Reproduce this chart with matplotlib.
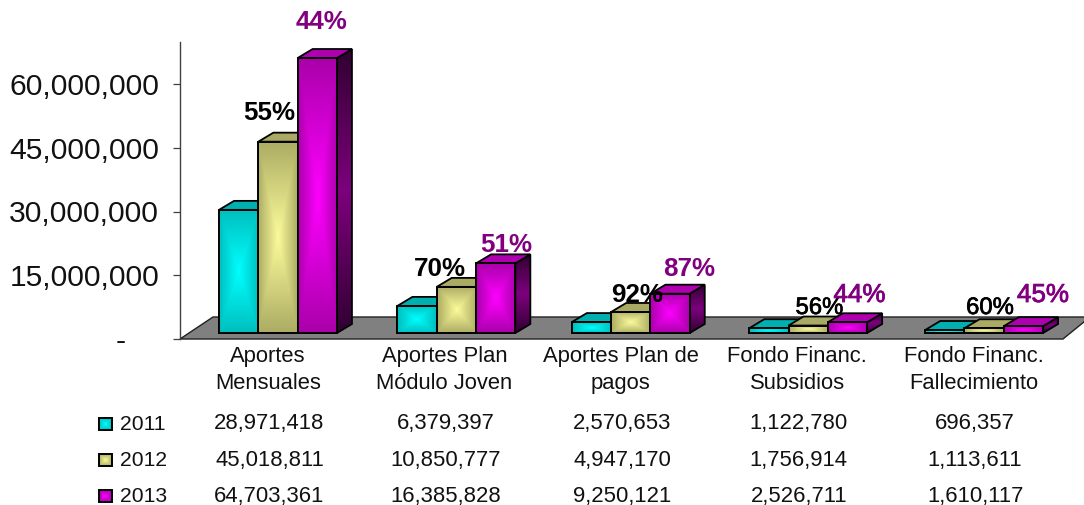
import numpy as np
import matplotlib
matplotlib.use("Agg")
import matplotlib.pyplot as plt
import matplotlib.patheffects as pe
from matplotlib.patches import Polygon, Rectangle

plt.rcParams['font.family'] = ['Liberation Sans', 'DejaVu Sans']

categories = ["Aportes\nMensuales", "Aportes Plan\nMódulo Joven", "Aportes Plan de\npagos",
              "Fondo Financ.\nSubsidios", "Fondo Financ.\nFallecimiento"]
years = ["2011", "2012", "2013"]
v2011 = [28971418, 6379397, 2570653, 1122780, 696357]
v2012 = [45018811, 10850777, 4947170, 1756914, 1113611]
v2013 = [64703361, 16385828, 9250121, 2526711, 1610117]
pct2012 = ["55%", "70%", "92%", "56%", "60%"]
pct2013 = ["44%", "51%", "87%", "44%", "45%"]
yticks = [0, 15000000, 30000000, 45000000, 60000000]
yticklabels = ["-    ", "15,000,000", "30,000,000", "45,000,000", "60,000,000"]
series = [v2011, v2012, v2013]

W, H = 1084, 505
AX_L, AX_R, AX_T, AX_B = 180, 1084, 42, 339
PX_PER_UNIT = 4.25 / 1e6
GROUP_PX = 176.4
GROUP0_PX = 278.0
GROUP_NUDGE_PX = [0, 2, 0, 1, 0.5]
BAR_PX = 39.3
DEPTH_X, DEPTH_Y = 15.0, 9.0
LIFT_PX = 6.0

fig = plt.figure(figsize=(W / 100, H / 100), dpi=100, facecolor="white")
ax = fig.add_axes([AX_L / W, 1 - AX_B / H, (AX_R - AX_L) / W, (AX_B - AX_T) / H])
ax.patch.set_visible(False)

xlim = ((AX_L - GROUP0_PX) / GROUP_PX, (AX_R - GROUP0_PX) / GROUP_PX)
ylim = (0, (AX_B - AX_T) / PX_PER_UNIT)


def X(px):
    return (px - GROUP0_PX) / GROUP_PX


def Y(px):
    return (AX_B - px) / PX_PER_UNIT


dxu, dyu = DEPTH_X / GROUP_PX, DEPTH_Y / PX_PER_UNIT
bw = BAR_PX / GROUP_PX
lift = LIFT_PX / PX_PER_UNIT

styles = [
    dict(c=(0, 255, 255), e=(0, 190, 190), top=(0, 175, 175), s0=(0, 70, 70), s1=(0, 130, 130)),
    dict(c=(252, 252, 155), e=(172, 172, 100), top=(170, 170, 100), s0=(70, 70, 40), s1=(120, 120, 70)),
    dict(c=(255, 0, 255), e=(170, 0, 170), top=(175, 0, 175), s0=(50, 0, 50), s1=(125, 0, 125)),
]


def rect_gradient(center, edge, n=80):
    u = np.linspace(-1, 1, n)
    uu, vv = np.meshgrid(u, u)
    t = np.maximum(np.abs(uu), np.abs(vv))[..., None]
    return (np.array(center) * (1 - t) + np.array(edge) * t) / 255


def to_rgb(c):
    return tuple(x / 255 for x in c)


floor = Polygon([(xlim[0], 0), (X(213), Y(317)), (X(1090), Y(317)), (X(1063), 0)],
                closed=True, fc=(0.5, 0.5, 0.5), ec="#202020", lw=1.0, zorder=1, clip_on=False)
ax.add_patch(floor)

z = 2.0
for g in range(len(categories)):
    for s, vals in enumerate(series):
        st = styles[s]
        x0 = g + GROUP_NUDGE_PX[g] / GROUP_PX + (s - 1.5) * bw
        x1 = x0 + bw
        b, t = lift, lift + vals[g]
        nside = 40
        vert = 1 - np.abs(np.linspace(-1, 1, nside))[:, None, None]
        mix = vert * np.ones((nside, nside, 1))
        side_img = (np.array(st['s0']) * (1 - mix) + np.array(st['s1']) * mix) / 255
        side = Polygon([(x1, b), (x1 + dxu, b + dyu), (x1 + dxu, t + dyu), (x1, t)], closed=True,
                       fc="none", ec="black", lw=1.3, zorder=z + 0.2, clip_on=False)
        ax.add_patch(side)
        im = ax.imshow(side_img, extent=(x1, x1 + dxu, b, t + dyu), aspect="auto",
                       interpolation="bilinear", zorder=z + 0.1, origin="lower")
        im.set_clip_path(side)
        ax.add_patch(Polygon([(x0, t), (x0 + dxu, t + dyu), (x1 + dxu, t + dyu), (x1, t)], closed=True,
                             fc=to_rgb(st['top']), ec="black", lw=1.3, zorder=z + 0.2, clip_on=False))
        ax.imshow(rect_gradient(st['c'], st['e']), extent=(x0, x1, b, t), aspect="auto",
                  interpolation="bilinear", zorder=z + 0.3, clip_on=False)
        ax.add_patch(Rectangle((x0, b), bw, vals[g], fc="none", ec="black", lw=1.4,
                               zorder=z + 0.4, clip_on=False))
        z += 1

ax.set_xlim(*xlim)
ax.set_ylim(*ylim)
ax.set_xticks([])
ax.set_yticks(yticks)
ax.set_yticklabels(yticklabels, fontsize=21.6, color="#111111")
ax.tick_params(axis="y", length=5, width=0.9, color="#404040", pad=10)
for k in ("top", "right", "bottom"):
    ax.spines[k].set_visible(False)
ax.spines["left"].set_color("#404040")
ax.spines["left"].set_linewidth(1.0)

TZ = 500
purple = "#800080"
pct_px_2012 = [(269.5, 112.5, "bold", 18.7, 0), (440, 269.5, "bold", 18.7, 0), (637, 294.5, "bold", 18.7, 0),
               (819.5, 308, "normal", 17.2, 0.5), (990, 308, "normal", 17.2, 0.5)]
pct_px_2013 = [(322, 21.5, "bold", 18.7, 0), (506, 244.5, "bold", 18.7, 0), (689, 269.5, "bold", 18.7, 0),
               (859.5, 295, "normal", 18.7, 0.6), (1043, 295, "normal", 18.7, 0.6)]
for labs, pos, col in ((pct2012, pct_px_2012, "black"), (pct2013, pct_px_2013, purple)):
    for lab, (px, py, w, fs, sw) in zip(labs, pos):
        t_ = ax.text(X(px), Y(py), lab, color=col, ha="center", va="center", fontsize=fs,
                     fontweight=w, zorder=TZ, clip_on=False)
        if sw:
            t_.set_path_effects([pe.withStroke(linewidth=sw, foreground=col)])

LABEL0 = 268.0 - GROUP0_PX
ROW_Y = [423.5, 460.5, 496.5]
LEG_Y = [424, 460, 496]
for g, cat in enumerate(categories):
    cx = g + LABEL0 / GROUP_PX
    ax.text(cx, Y(370), cat, ha="center", va="center", fontsize=15.8,
            color="#111111", linespacing=1.32, zorder=TZ, clip_on=False)
    for s, vals in enumerate(series):
        ax.text(cx + 1.5 / GROUP_PX, Y(ROW_Y[s]), f"{vals[g]:,}", ha="center", va="center", fontsize=15.9,
                color="#111111", zorder=TZ, clip_on=False)

for s, yr in enumerate(years):
    st = styles[s]
    x0, x1 = X(99), X(112)
    b, t = Y(LEG_Y[s] + 6), Y(LEG_Y[s] - 6)
    ax.imshow(rect_gradient(st['c'], st['e']), extent=(x0, x1, b, t), aspect="auto",
              interpolation="bilinear", zorder=TZ, clip_on=False)
    ax.add_patch(Rectangle((x0, b), x1 - x0, t - b, fc="none", ec="black", lw=1.4, zorder=TZ + 1,
                           clip_on=False))
    ax.text(X(120), Y(LEG_Y[s]), yr, ha="left", va="center", fontsize=15.2, color="#111111",
            zorder=TZ, clip_on=False)

ax.set_xlim(*xlim)
ax.set_ylim(*ylim)
fig.savefig("out.png", dpi=100, facecolor="white")
